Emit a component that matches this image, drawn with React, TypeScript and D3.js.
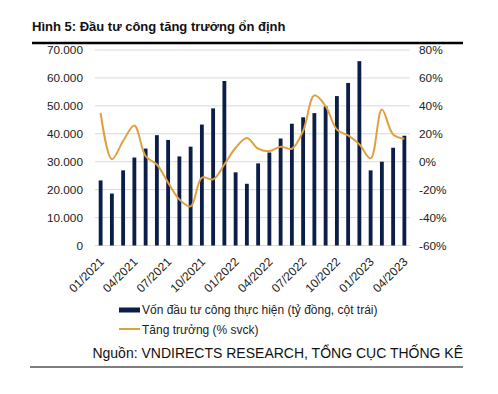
import React from 'react';
import * as d3 from 'd3';

const months = [
  '01/2021', '02/2021', '03/2021', '04/2021', '05/2021', '06/2021', '07/2021', '08/2021', '09/2021', '10/2021', '11/2021', '12/2021',
  '01/2022', '02/2022', '03/2022', '04/2022', '05/2022', '06/2022', '07/2022', '08/2022', '09/2022', '10/2022', '11/2022', '12/2022',
  '01/2023', '02/2023', '03/2023', '04/2023',
];

// Vốn đầu tư công thực hiện (tỷ đồng)
const capital = [
  23300, 18600, 26900, 31500, 34700, 39500, 37800, 31900, 35400, 43300, 49100, 58900,
  26200, 22100, 29400, 33300, 38300, 43600, 45900, 47400, 49800, 53500, 58200, 66000,
  26900, 30000, 35000, 39300,
];

// Tăng trưởng (% svck)
const growth = [
  35, 1.8, 14.8, 26, 4, -2, -15, -27, -32, -11.4, -12.6, -2,
  10, 17, 9.3, 7.6, 10.7, 9.3, 22, 47.5, 39.8, 23, 18.8, 12.4,
  2.4, 37.4, 19.5, 16.4,
];

const leftTicks = [0, 10000, 20000, 30000, 40000, 50000, 60000, 70000];
const rightTicks = [-60, -40, -20, 0, 20, 40, 60, 80];
const tickMonths = ['01/2021', '04/2021', '07/2021', '10/2021', '01/2022', '04/2022', '07/2022', '10/2022', '01/2023', '04/2023'];

const W = 498;
const H = 394;
const plot = { left: 95, right: 410, top: 50, bottom: 245.5 };
const font = 'Arial, "Liberation Sans", sans-serif';
const barColor = '#0b1e48';
const lineColor = '#e0a040';

const fmtLeft = (v: number) => d3.format(',')(v).replace(/,/g, '.');

export default function App() {
  const x = d3.scaleBand<string>().domain(months).range([plot.left, plot.right]).paddingInner(0.66).paddingOuter(0.33);
  const yL = d3.scaleLinear().domain([0, 70000]).range([plot.bottom, plot.top]);
  const yR = d3.scaleLinear().domain([-60, 80]).range([plot.bottom, plot.top]);
  const cx = (m: string) => (x(m) ?? 0) + x.bandwidth() / 2;

  const line = d3.line<number>()
    .x((_, i) => cx(months[i]))
    .y(d => yR(d))
    .curve(d3.curveCatmullRom.alpha(0.5));

  return (
    <svg width={W} height={H} style={{ position: 'absolute', left: 0, top: 0, background: '#fff' }} fontFamily={font}>
      <text x={32} y={31} fontSize={13} fontWeight="bold" fill="#111">Hình 5: Đầu tư công tăng trưởng ổn định</text>
      <line x1={32} x2={463} y1={43} y2={43} stroke="#000" strokeWidth={2.5} />

      {leftTicks.map(t => (
        <g key={t}>
          {t > 0 && <line x1={plot.left} x2={plot.right} y1={yL(t)} y2={yL(t)} stroke="#d9d9d9" strokeWidth={1} />}
          <text x={83} y={yL(t)} dy="0.35em" textAnchor="end" fontSize={11.8} fill="#222">{fmtLeft(t)}</text>
        </g>
      ))}
      {rightTicks.map(t => (
        <text key={t} x={419} y={yR(t)} dy="0.35em" fontSize={11.8} fill="#222">{t}%</text>
      ))}

      <line x1={plot.left} x2={plot.right} y1={plot.bottom} y2={plot.bottom} stroke="#d9d9d9" />

      {capital.map((v, i) => (
        <rect key={months[i]} x={x(months[i])} y={yL(v)} width={x.bandwidth()} height={plot.bottom - yL(v)} fill={barColor} />
      ))}

      <path d={line(growth) ?? ''} fill="none" stroke={lineColor} strokeWidth={2} />

      {tickMonths.map(m => (
        <text key={m} transform={`translate(${cx(m) + 4},${plot.bottom + 17}) rotate(-45)`} textAnchor="end" fontSize={12} fill="#222">{m}</text>
      ))}

      <rect x={119} y={307.5} width={21} height={5} fill={barColor} />
      <text x={142} y={314} fontSize={12} fill="#222">Vốn đầu tư công thực hiện (tỷ đồng, cột trái)</text>
      <line x1={119} x2={140} y1={329} y2={329} stroke={lineColor} strokeWidth={2} />
      <text x={142} y={333.5} fontSize={12} fill="#222">Tăng trưởng (% svck)</text>

      <text x={463} y={358} textAnchor="end" fontSize={14} fill="#111">Nguồn: VNDIRECTS RESEARCH, TỔNG CỤC THỐNG KÊ</text>
      <line x1={30} x2={463} y1={367} y2={367} stroke="#000" strokeWidth={1} />
    </svg>
  );
}
